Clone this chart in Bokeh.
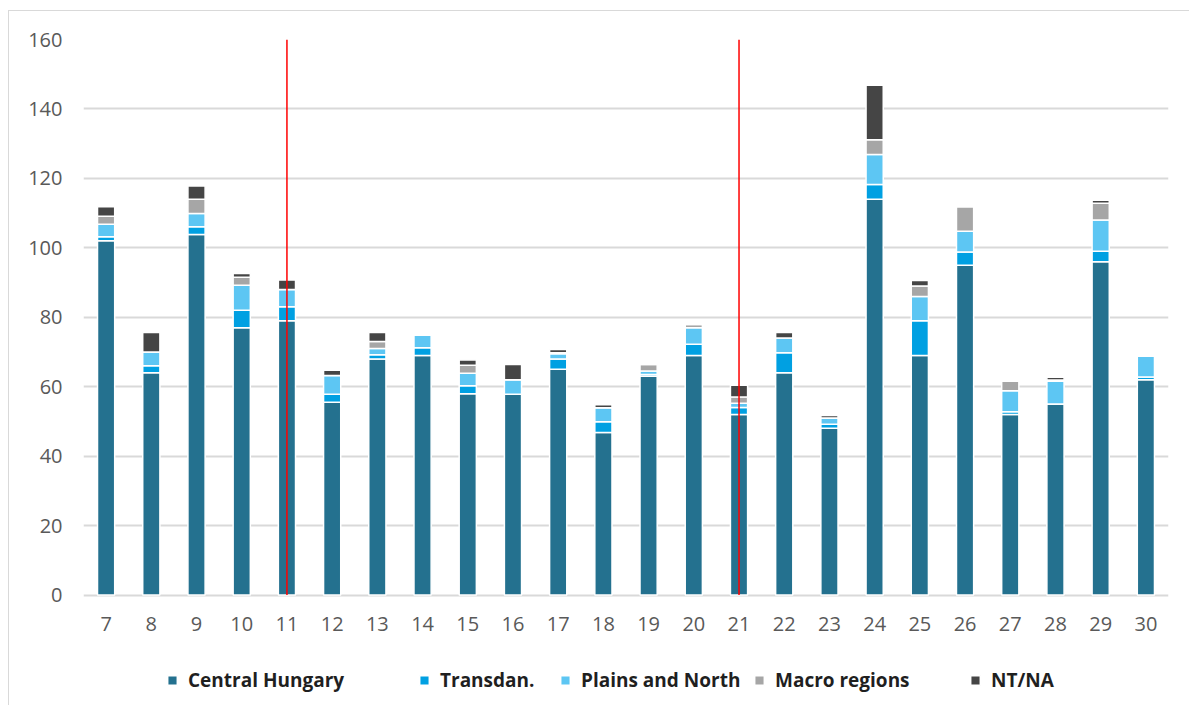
from bokeh.plotting import figure
from bokeh.models import ColumnDataSource, Legend, LegendItem, FixedTicker
from bokeh.embed import file_html
from bokeh.resources import INLINE

# Rounds on the category axis
rounds = [str(i) for i in range(7, 31)]

# Stacked components per round
central_hungary = [102, 64, 103.8, 77, 79, 55.5, 68, 69, 58, 57.8, 65, 46.8,
                   63, 69, 52, 64, 48, 114, 69, 95, 52, 55, 96, 62]
transdan = [1.2, 2, 2.3, 5, 4, 2.3, 1.2, 2.2, 2.3, 0, 3, 3.1,
            0.5, 3.2, 2, 5.8, 1.2, 4.2, 10, 3.8, 0.8, 0, 3, 0.8]
plains_and_north = [3.6, 4, 3.8, 7.2, 5, 5.4, 1.8, 3.6, 3.6, 4.2, 1.5, 4,
                    1.0, 4.8, 1.2, 4.2, 1.8, 8.7, 7, 6, 6, 6.6, 9, 6]
macro_regions = [2.3, 0, 4.1, 2.3, 0, 0, 2, 0, 2.3, 0, 0.3, 0,
                 1.9, 0.9, 1.8, 0, 0, 4.2, 3, 7, 2.8, 0.3, 4.8, 0]
nt_na = [2.7, 5.6, 3.8, 1.1, 2.7, 1.5, 2.6, 0, 1.5, 4.4, 0.9, 0.9,
         0, 0, 3.4, 1.6, 0.7, 15.7, 1.6, 0, 0, 0.8, 0.9, 0]

series_names = ["Central Hungary", "Transdan.", "Plains and North", "Macro regions", "NT/NA"]
series_keys = ["central", "transdan", "plains", "macro", "ntna"]
series_colors = ["#24718F", "#00A0E2", "#5DC6F3", "#A6A6A6", "#454545"]

y_ticks = [0, 20, 40, 60, 80, 100, 120, 140, 160]
marked_rounds = ["11", "21"]

# Left edge of each legend entry, in page pixels
legend_left = [166, 418, 559, 753, 969]

source = ColumnDataSource(dict(
    round=rounds,
    central=central_hungary,
    transdan=transdan,
    plains=plains_and_north,
    macro=macro_regions,
    ntna=nt_na,
))

FONT = "Open Sans"

# Frame runs to the bottom of the canvas so the legend row below the
# category labels stays inside it; the value axis itself shows 0..160.
FRAME_TOP, FRAME_BOTTOM, ZERO_Y = 39, 706, 594.5
px_per_unit = (ZERO_Y - FRAME_TOP) / 160
y_floor = -(FRAME_BOTTOM - ZERO_Y) / px_per_unit

p = figure(
    x_range=rounds, y_range=(y_floor, 160),
    width=1181, height=695,
    output_backend="svg", toolbar_location=None,
    min_border_left=74, min_border_right=22,
    min_border_top=28, min_border_bottom=0,
)
p.margin = (10, 0, 0, 8)
p.styles = {"border-left": "1px solid #D9D9D9", "border-top": "1px solid #D9D9D9"}
p.outline_line_color = None
p.background_fill_color = "white"
p.border_fill_color = "white"

p.ygrid.grid_line_color = "#D9D9D9"
p.ygrid.grid_line_width = 2
p.ygrid.ticker = FixedTicker(ticks=y_ticks)
p.xgrid.grid_line_color = None

renderers = p.vbar_stack(
    series_keys, x="round", width=0.38, source=source,
    color=series_colors, line_color="white", line_width=1.5,
)
for r, c in zip(renderers, series_colors):
    r.glyph.fill_color = c
    r.glyph.line_color = "white"

# Vertical red markers
marks = ColumnDataSource(dict(round=marked_rounds))
p.segment(x0="round", y0=0, x1="round", y1=160, source=marks,
          line_color="#FF0000", line_width=1.5)

# Axes
p.yaxis.ticker = FixedTicker(ticks=y_ticks)
for ax in (p.xaxis[0], p.yaxis[0]):
    ax.axis_line_color = None
    ax.major_tick_line_color = None
    ax.minor_tick_line_color = None
    ax.major_tick_out = 0
    ax.major_tick_in = 0
    ax.major_label_text_font = FONT
    ax.major_label_text_font_size = "20px"
    ax.major_label_text_color = "#595959"
p.yaxis.major_label_standoff = 21
p.xaxis.fixed_location = 0
p.xaxis.major_label_standoff = 22

# One legend entry per series, laid out along the bottom
for name, r, lx in zip(series_names, renderers, legend_left):
    leg = Legend(
        items=[LegendItem(label=name, renderers=[r])],
        location=(lx - 83, 13),
        orientation="horizontal",
        label_text_font=FONT, label_text_font_style="bold",
        label_text_font_size="19px", label_text_color="#1F1F1F",
        glyph_width=12, glyph_height=12, label_standoff=10,
        label_height=12, padding=0, margin=0, spacing=0,
        border_line_color=None, background_fill_alpha=0,
    )
    p.add_layout(leg, "center")

open("out.html", "w").write(file_html(p, INLINE))
